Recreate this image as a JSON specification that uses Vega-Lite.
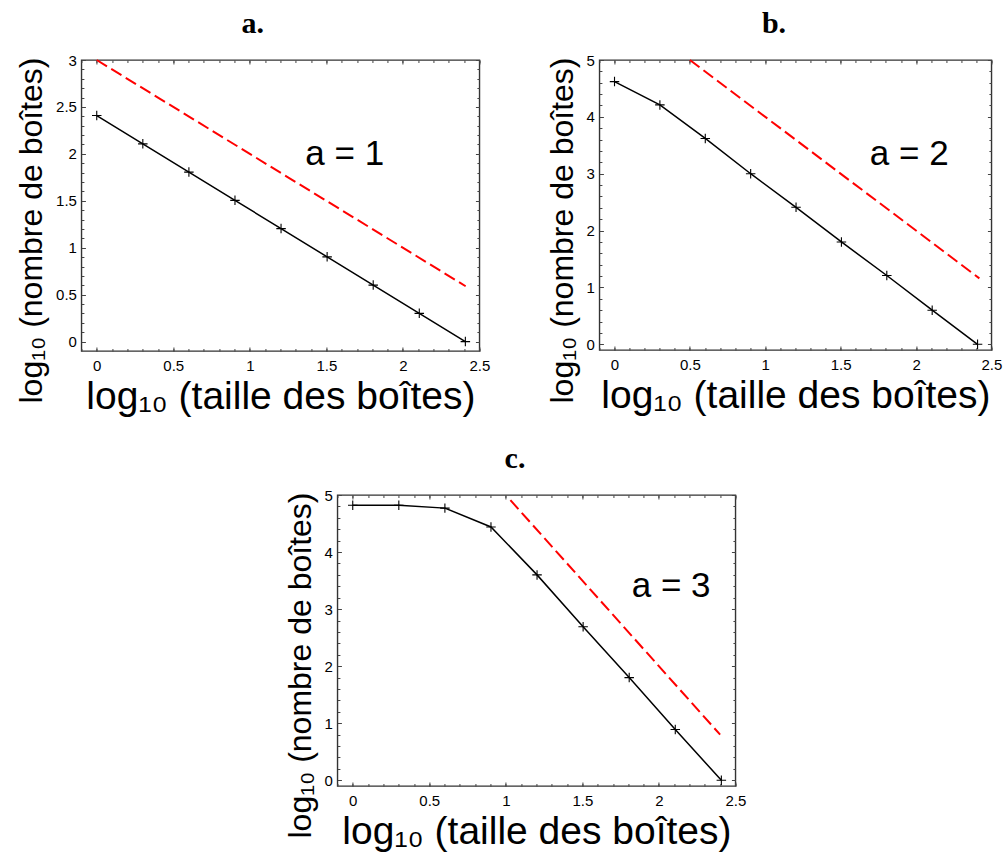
{
  "$schema": "https://vega.github.io/schema/vega-lite/v6.json",
  "background": "white",
  "padding": {"left": 14, "top": 8, "right": 0, "bottom": 0},
  "config": {
    "view": {"stroke": "#333", "strokeWidth": 1.4},
    "axis": {"grid": false, "domain": false, "labelFont": "Liberation Sans", "labelFontSize": 15, "labelColor": "#000", "tickColor": "#444", "labelFlush": false, "labelOverlap": false, "titleFont": "Liberation Sans", "titleFontWeight": "normal", "titleColor": "#000", "format": "~g"},
    "title": {"font": "Liberation Serif", "fontSize": 30, "fontWeight": "bold", "color": "#000", "anchor": "middle", "frame": "bounds", "offset": 14},
    "concat": {"spacing": 26}
  },
  "datasets": {
    "a": [
      {"x": 0, "y": 2.408}, {"x": 0.301, "y": 2.107}, {"x": 0.602, "y": 1.806}, {"x": 0.903, "y": 1.505}, {"x": 1.204, "y": 1.204}, {"x": 1.505, "y": 0.903}, {"x": 1.806, "y": 0.602}, {"x": 2.107, "y": 0.301}, {"x": 2.408, "y": 0}
    ],
    "afit": [{"x": 0, "y": 3.0}, {"x": 2.41, "y": 0.59}],
    "b": [
      {"x": 0, "y": 4.62}, {"x": 0.301, "y": 4.21}, {"x": 0.602, "y": 3.62}, {"x": 0.903, "y": 3.0}, {"x": 1.204, "y": 2.41}, {"x": 1.505, "y": 1.8}, {"x": 1.806, "y": 1.21}, {"x": 2.107, "y": 0.6}, {"x": 2.408, "y": 0}
    ],
    "bfit": [{"x": 0.5, "y": 5.0}, {"x": 2.42, "y": 1.16}],
    "c": [
      {"x": 0, "y": 4.82}, {"x": 0.301, "y": 4.82}, {"x": 0.602, "y": 4.77}, {"x": 0.903, "y": 4.44}, {"x": 1.204, "y": 3.6}, {"x": 1.505, "y": 2.69}, {"x": 1.806, "y": 1.8}, {"x": 2.107, "y": 0.89}, {"x": 2.408, "y": 0}
    ],
    "cfit": [{"x": 1.03, "y": 4.91}, {"x": 2.4, "y": 0.8}],
    "labels": [
      {"panel": "a", "x": 1.62, "y": 1.885, "text": "a = 1"},
      {"panel": "b", "x": 1.955, "y": 3.15, "text": "a = 2"},
      {"panel": "c", "x": 2.08, "y": 3.22, "text": "a = 3"}
    ]
  },
  "vconcat": [
    {
      "hconcat": [
        {
          "title": "a.",
          "width": 398, "height": 291,
          "resolve": {"axis": {"x": "independent", "y": "independent"}},
          "layer": [
            {
              "data": {"name": "a"},
              "mark": {"type": "line", "color": "#000", "strokeWidth": 1.5},
              "encoding": {
                "x": {"field": "x", "type": "quantitative", "scale": {"domain": [-0.1, 2.5], "nice": false, "zero": false},
                  "axis": {"orient": "bottom", "values": [0, 0.5, 1, 1.5, 2, 2.5], "tickSize": -4, "labelPadding": 11, "title": "log₁₀ (taille des boîtes)", "titleFontSize": 39, "titlePadding": 4}},
                "y": {"field": "y", "type": "quantitative", "scale": {"domain": [-0.1, 3], "nice": false, "zero": false},
                  "axis": {"orient": "left", "values": [0, 0.5, 1, 1.5, 2, 2.5, 3], "tickSize": -4, "labelPadding": 9, "title": "log₁₀ (nombre de boîtes)", "titleFontSize": 32, "titlePadding": 7, "titleY": 170}}
              }
            },
            {
              "data": {"name": "a"},
              "mark": {"type": "point", "shape": "M-1,0H1M0,-1V1", "filled": false, "stroke": "#000", "strokeWidth": 1.1, "size": 90, "opacity": 1},
              "encoding": {
                "x": {"field": "x", "type": "quantitative", "axis": {"orient": "bottom", "values": [-0.1, 0, 0.1, 0.2, 0.3, 0.4, 0.5, 0.6, 0.7, 0.8, 0.9, 1, 1.1, 1.2, 1.3, 1.4, 1.5, 1.6, 1.7, 1.8, 1.9, 2, 2.1, 2.2, 2.3, 2.4, 2.5], "tickSize": -2.5, "labels": false, "title": null}},
                "y": {"field": "y", "type": "quantitative", "axis": {"orient": "left", "values": [0, 0.1, 0.2, 0.3, 0.4, 0.5, 0.6, 0.7, 0.8, 0.9, 1, 1.1, 1.2, 1.3, 1.4, 1.5, 1.6, 1.7, 1.8, 1.9, 2, 2.1, 2.2, 2.3, 2.4, 2.5, 2.6, 2.7, 2.8, 2.9, 3], "tickSize": -2.5, "labels": false, "title": null}}
              }
            },
            {
              "data": {"name": "afit"},
              "mark": {"type": "line", "color": "#ff0000", "strokeWidth": 2, "strokeDash": [12, 5]},
              "encoding": {
                "x": {"field": "x", "type": "quantitative", "axis": {"orient": "top", "values": [0, 0.5, 1, 1.5, 2, 2.5], "tickSize": -4, "labels": false, "title": null}},
                "y": {"field": "y", "type": "quantitative", "axis": {"orient": "right", "values": [0, 0.5, 1, 1.5, 2, 2.5, 3], "tickSize": -4, "labels": false, "title": null}}
              }
            },
            {
              "data": {"name": "labels"},
              "transform": [{"filter": "datum.panel === 'a'"}],
              "mark": {"type": "text", "font": "Liberation Sans", "fontSize": 35, "color": "#000", "align": "center", "baseline": "alphabetic"},
              "encoding": {
                "text": {"field": "text"},
                "x": {"field": "x", "type": "quantitative", "axis": {"orient": "top", "values": [-0.1, 0, 0.1, 0.2, 0.3, 0.4, 0.5, 0.6, 0.7, 0.8, 0.9, 1, 1.1, 1.2, 1.3, 1.4, 1.5, 1.6, 1.7, 1.8, 1.9, 2, 2.1, 2.2, 2.3, 2.4, 2.5], "tickSize": -2.5, "labels": false, "title": null}},
                "y": {"field": "y", "type": "quantitative", "axis": {"orient": "right", "values": [0, 0.1, 0.2, 0.3, 0.4, 0.5, 0.6, 0.7, 0.8, 0.9, 1, 1.1, 1.2, 1.3, 1.4, 1.5, 1.6, 1.7, 1.8, 1.9, 2, 2.1, 2.2, 2.3, 2.4, 2.5, 2.6, 2.7, 2.8, 2.9, 3], "tickSize": -2.5, "labels": false, "title": null}}
              }
            }
          ]
        },
        {
          "title": "b.",
          "width": 392, "height": 290,
          "resolve": {"axis": {"x": "independent", "y": "independent"}},
          "layer": [
            {
              "data": {"name": "b"},
              "mark": {"type": "line", "color": "#000", "strokeWidth": 1.5},
              "encoding": {
                "x": {"field": "x", "type": "quantitative", "scale": {"domain": [-0.1, 2.5], "nice": false, "zero": false},
                  "axis": {"orient": "bottom", "values": [0, 0.5, 1, 1.5, 2, 2.5], "tickSize": -4, "labelPadding": 11, "title": "log₁₀ (taille des boîtes)", "titleFontSize": 39, "titlePadding": 4}},
                "y": {"field": "y", "type": "quantitative", "scale": {"domain": [-0.1, 5], "nice": false, "zero": false},
                  "axis": {"orient": "left", "values": [0, 1, 2, 3, 4, 5], "tickSize": -4, "labelPadding": 9, "title": "log₁₀ (nombre de boîtes)", "titleFontSize": 32, "titlePadding": 7, "titleY": 170}}
              }
            },
            {
              "data": {"name": "b"},
              "mark": {"type": "point", "shape": "M-1,0H1M0,-1V1", "filled": false, "stroke": "#000", "strokeWidth": 1.1, "size": 90, "opacity": 1},
              "encoding": {
                "x": {"field": "x", "type": "quantitative", "axis": {"orient": "bottom", "values": [-0.1, 0, 0.1, 0.2, 0.3, 0.4, 0.5, 0.6, 0.7, 0.8, 0.9, 1, 1.1, 1.2, 1.3, 1.4, 1.5, 1.6, 1.7, 1.8, 1.9, 2, 2.1, 2.2, 2.3, 2.4, 2.5], "tickSize": -2.5, "labels": false, "title": null}},
                "y": {"field": "y", "type": "quantitative", "axis": {"orient": "left", "values": [0, 0.2, 0.4, 0.6, 0.8, 1, 1.2, 1.4, 1.6, 1.8, 2, 2.2, 2.4, 2.6, 2.8, 3, 3.2, 3.4, 3.6, 3.8, 4, 4.2, 4.4, 4.6, 4.8, 5], "tickSize": -2.5, "labels": false, "title": null}}
              }
            },
            {
              "data": {"name": "bfit"},
              "mark": {"type": "line", "color": "#ff0000", "strokeWidth": 2, "strokeDash": [12, 5]},
              "encoding": {
                "x": {"field": "x", "type": "quantitative", "axis": {"orient": "top", "values": [0, 0.5, 1, 1.5, 2, 2.5], "tickSize": -4, "labels": false, "title": null}},
                "y": {"field": "y", "type": "quantitative", "axis": {"orient": "right", "values": [0, 1, 2, 3, 4, 5], "tickSize": -4, "labels": false, "title": null}}
              }
            },
            {
              "data": {"name": "labels"},
              "transform": [{"filter": "datum.panel === 'b'"}],
              "mark": {"type": "text", "font": "Liberation Sans", "fontSize": 35, "color": "#000", "align": "center", "baseline": "alphabetic"},
              "encoding": {
                "text": {"field": "text"},
                "x": {"field": "x", "type": "quantitative", "axis": {"orient": "top", "values": [-0.1, 0, 0.1, 0.2, 0.3, 0.4, 0.5, 0.6, 0.7, 0.8, 0.9, 1, 1.1, 1.2, 1.3, 1.4, 1.5, 1.6, 1.7, 1.8, 1.9, 2, 2.1, 2.2, 2.3, 2.4, 2.5], "tickSize": -2.5, "labels": false, "title": null}},
                "y": {"field": "y", "type": "quantitative", "axis": {"orient": "right", "values": [0, 0.2, 0.4, 0.6, 0.8, 1, 1.2, 1.4, 1.6, 1.8, 2, 2.2, 2.4, 2.6, 2.8, 3, 3.2, 3.4, 3.6, 3.8, 4, 4.2, 4.4, 4.6, 4.8, 5], "tickSize": -2.5, "labels": false, "title": null}}
              }
            }
          ]
        }
      ],
      "spacing": 53
    },
    {
      "title": "c.",
      "width": 398, "height": 291,
      "resolve": {"axis": {"x": "independent", "y": "independent"}},
      "layer": [
        {
          "data": {"name": "c"},
          "mark": {"type": "line", "color": "#000", "strokeWidth": 1.5},
          "encoding": {
            "x": {"field": "x", "type": "quantitative", "scale": {"domain": [-0.1, 2.5], "nice": false, "zero": false},
              "axis": {"orient": "bottom", "values": [0, 0.5, 1, 1.5, 2, 2.5], "tickSize": -4, "labelPadding": 11, "title": "log₁₀ (taille des boîtes)", "titleFontSize": 39, "titlePadding": 4}},
            "y": {"field": "y", "type": "quantitative", "scale": {"domain": [-0.1, 5], "nice": false, "zero": false},
              "axis": {"orient": "left", "values": [0, 1, 2, 3, 4, 5], "tickSize": -4, "labelPadding": 9, "title": "log₁₀ (nombre de boîtes)", "titleFontSize": 32, "titlePadding": 7, "titleY": 170}}
          }
        },
        {
          "data": {"name": "c"},
          "mark": {"type": "point", "shape": "M-1,0H1M0,-1V1", "filled": false, "stroke": "#000", "strokeWidth": 1.1, "size": 90, "opacity": 1},
          "encoding": {
            "x": {"field": "x", "type": "quantitative", "axis": {"orient": "bottom", "values": [-0.1, 0, 0.1, 0.2, 0.3, 0.4, 0.5, 0.6, 0.7, 0.8, 0.9, 1, 1.1, 1.2, 1.3, 1.4, 1.5, 1.6, 1.7, 1.8, 1.9, 2, 2.1, 2.2, 2.3, 2.4, 2.5], "tickSize": -2.5, "labels": false, "title": null}},
            "y": {"field": "y", "type": "quantitative", "axis": {"orient": "left", "values": [0, 0.2, 0.4, 0.6, 0.8, 1, 1.2, 1.4, 1.6, 1.8, 2, 2.2, 2.4, 2.6, 2.8, 3, 3.2, 3.4, 3.6, 3.8, 4, 4.2, 4.4, 4.6, 4.8, 5], "tickSize": -2.5, "labels": false, "title": null}}
          }
        },
        {
          "data": {"name": "cfit"},
          "mark": {"type": "line", "color": "#ff0000", "strokeWidth": 2, "strokeDash": [12, 5]},
          "encoding": {
            "x": {"field": "x", "type": "quantitative", "axis": {"orient": "top", "values": [0, 0.5, 1, 1.5, 2, 2.5], "tickSize": -4, "labels": false, "title": null}},
            "y": {"field": "y", "type": "quantitative", "axis": {"orient": "right", "values": [0, 1, 2, 3, 4, 5], "tickSize": -4, "labels": false, "title": null}}
          }
        },
        {
          "data": {"name": "labels"},
          "transform": [{"filter": "datum.panel === 'c'"}],
          "mark": {"type": "text", "font": "Liberation Sans", "fontSize": 35, "color": "#000", "align": "center", "baseline": "alphabetic"},
          "encoding": {
            "text": {"field": "text"},
            "x": {"field": "x", "type": "quantitative", "axis": {"orient": "top", "values": [-0.1, 0, 0.1, 0.2, 0.3, 0.4, 0.5, 0.6, 0.7, 0.8, 0.9, 1, 1.1, 1.2, 1.3, 1.4, 1.5, 1.6, 1.7, 1.8, 1.9, 2, 2.1, 2.2, 2.3, 2.4, 2.5], "tickSize": -2.5, "labels": false, "title": null}},
            "y": {"field": "y", "type": "quantitative", "axis": {"orient": "right", "values": [0, 0.2, 0.4, 0.6, 0.8, 1, 1.2, 1.4, 1.6, 1.8, 2, 2.2, 2.4, 2.6, 2.8, 3, 3.2, 3.4, 3.6, 3.8, 4, 4.2, 4.4, 4.6, 4.8, 5], "tickSize": -2.5, "labels": false, "title": null}}
          }
        }
      ]
    }
  ],
  "spacing": 26,
  "center": true
}
